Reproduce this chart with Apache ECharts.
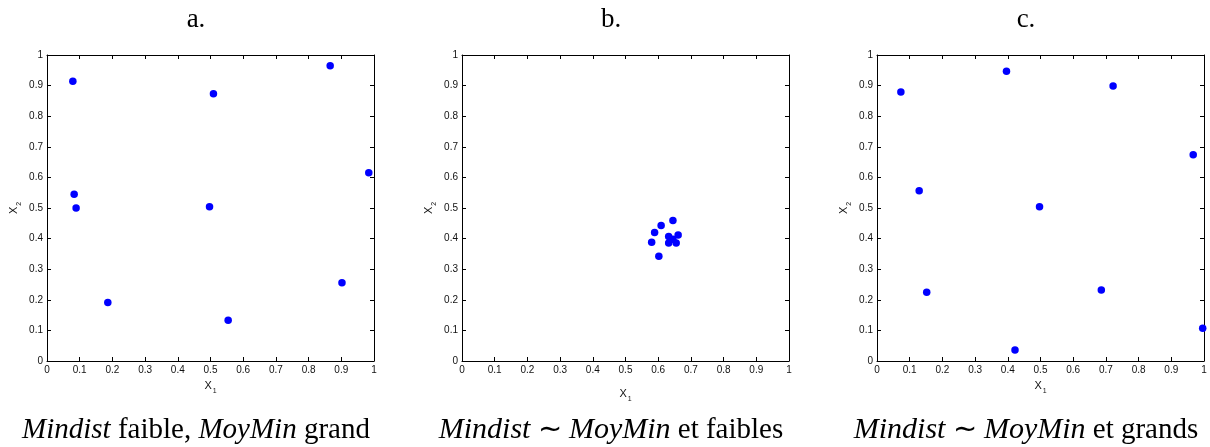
<!DOCTYPE html>
<html>
<head>
<meta charset="utf-8">
<script src="https://cdn.jsdelivr.net/npm/echarts@6/dist/echarts.min.js"></script>
<style>html,body{margin:0;padding:0;background:#fff}#c{width:1210px;height:447px}</style>
</head>
<body>
<div id="c"></div>
<script>
// ---- data ----
const tickLabels = ['0','0.1','0.2','0.3','0.4','0.5','0.6','0.7','0.8','0.9','1'];
const panelTitles = ['a.', 'b.', 'c.'];
const captions = [
  '{i|Mindist} faible, {i|MoyMin} grand',
  '{m|Mindist} ∼ {m|MoyMin} et faibles',
  '{m|Mindist} ∼ {m|MoyMin} et grands'
];
const aX1 = [0.079, 0.509, 0.866, 0.984, 0.083, 0.089, 0.497, 0.186, 0.554, 0.902];
const aX2 = [0.914, 0.873, 0.965, 0.615, 0.545, 0.500, 0.504, 0.191, 0.133, 0.256];
const bX1 = [0.645, 0.609, 0.589, 0.580, 0.602, 0.632, 0.632, 0.645, 0.655, 0.661];
const bX2 = [0.459, 0.443, 0.420, 0.388, 0.342, 0.407, 0.386, 0.398, 0.386, 0.412];
const cX1 = [0.073, 0.396, 0.722, 0.967, 0.129, 0.497, 0.152, 0.686, 0.422, 0.996];
const cX2 = [0.879, 0.947, 0.899, 0.674, 0.556, 0.504, 0.225, 0.232, 0.036, 0.107];

const panels = [[aX1, aX2], [bX1, bX2], [cX1, cX2]];

// ---- layout ----
const gridLefts = [47, 462, 877];
const gridW = 327, gridTop = 55, gridH = 306;
const centers = [196, 611, 1026];
const xNameGaps = [16, 24, 16];
const sansFont = 'Liberation Sans';
const serifFont = 'Liberation Serif';

const lbl = v => tickLabels[Math.round(v * 10)];
const nameStyle = {
  fontFamily: sansFont, fontSize: 11, color: '#111',
  rich: { s: { fontFamily: sansFont, fontSize: 7, color: '#111', padding: [11, 0, 0, 1] } }
};

const grids = [], xAxes = [], yAxes = [], series = [], graphics = [];
panels.forEach((p, i) => {
  grids.push({ left: gridLefts[i], top: gridTop, width: gridW, height: gridH, show: false });
  const common = {
    type: 'value', min: 0, max: 1, interval: 0.1, gridIndex: i,
    axisLine: { show: true, onZero: false, lineStyle: { color: '#000', width: 1 } },
    axisTick: { show: true, inside: true, length: 4, lineStyle: { color: '#000' } },
    splitLine: { show: false }
  };
  xAxes.push(Object.assign({}, common, {
    position: 'bottom',
    axisLabel: { show: true, formatter: lbl, color: '#111', fontFamily: sansFont, fontSize: 10, margin: 4 },
    name: 'X{s|1}', nameLocation: 'middle', nameGap: xNameGaps[i], nameTextStyle: nameStyle
  }));
  xAxes.push(Object.assign({}, common, { position: 'top', axisLabel: { show: false } }));
  yAxes.push(Object.assign({}, common, {
    position: 'left',
    axisLabel: { show: true, formatter: lbl, color: '#111', fontFamily: sansFont, fontSize: 10, margin: 4 },
    name: 'X{s|2}', nameLocation: 'middle', nameGap: 24, nameTextStyle: nameStyle
  }));
  yAxes.push(Object.assign({}, common, { position: 'right', axisLabel: { show: false } }));
  series.push({
    type: 'scatter', xAxisIndex: 2 * i, yAxisIndex: 2 * i,
    symbol: 'circle', symbolSize: 7.5,
    itemStyle: { color: '#0000ff', opacity: 1 },
    data: p[0].map((x, k) => [x, p[1][k]])
  });
  graphics.push({
    type: 'text', x: centers[i], y: 20,
    style: { text: panelTitles[i], fontFamily: serifFont, fontSize: 27, fill: '#000', align: 'center', verticalAlign: 'middle' }
  });
  graphics.push({
    type: 'text', x: centers[i], y: 430,
    style: {
      text: captions[i], fontFamily: serifFont, fontSize: 29, fill: '#000', align: 'center', verticalAlign: 'middle',
      rich: {
        i: { fontFamily: serifFont, fontSize: 29, fontStyle: 'italic', fill: '#000' },
        m: { fontFamily: serifFont, fontSize: 30, fontStyle: 'italic', fill: '#000' }
      }
    }
  });
});

const chart = echarts.init(document.getElementById('c'), null, { renderer: 'canvas' });
chart.setOption({
  animation: false,
  backgroundColor: '#fff',
  grid: grids,
  xAxis: xAxes,
  yAxis: yAxes,
  series: series,
  graphic: graphics
});
</script>
</body>
</html>
